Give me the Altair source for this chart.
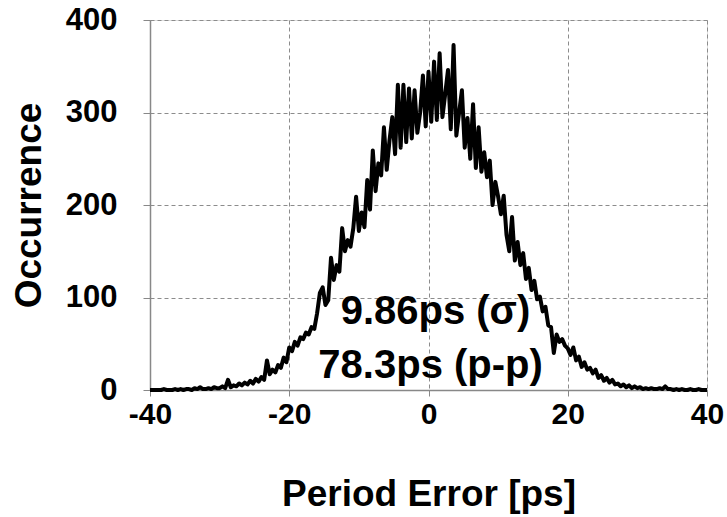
import altair as alt
import pandas as pd

# Histogram bins (ps), 0.4 ps apart
bin_start = -40.0
bin_step = 0.4
occurrence = [
    0, 0, 0, 0, 0, 1, 0, 0, 0, 1,
    0, 1, 0, 1, 1, 0, 2, 1, 3, 1,
    1, 2, 1, 3, 2, 2, 4, 2, 11, 3,
    5, 4, 7, 5, 8, 6, 10, 7, 12, 9,
    14, 11, 32, 17, 22, 19, 27, 24, 35, 30,
    46, 42, 52, 48, 57, 55, 62, 60, 68, 66,
    83, 105, 111, 92, 97, 143, 119, 135, 128, 175,
    150, 162, 155, 175, 209, 172, 192, 176, 227, 195,
    259, 215, 245, 232, 284, 238, 270, 295, 255, 330,
    262, 330, 268, 326, 272, 324, 278, 300, 340, 285,
    344, 290, 355, 292, 364, 295, 320, 346, 282, 373,
    275, 300, 324, 262, 294, 250, 309, 240, 284, 236,
    257, 230, 248, 200, 225, 209, 190, 210, 168, 150,
    187, 140, 160, 135, 148, 120, 132, 108, 118, 98,
    101, 85, 90, 70, 68, 40, 60, 52, 55, 48,
    45, 38, 46, 32, 36, 25, 30, 22, 24, 18,
    22, 13, 16, 10, 13, 8, 11, 6, 7, 4,
    6, 3, 5, 2, 4, 2, 3, 1, 2, 1,
    2, 1, 1, 2, 1, 4, 1, 1, 0, 1,
    0, 1, 0, 0, 1, 0, 0, 1, 0, 0,
    0,
]
period_error = [round(bin_start + bin_step * i, 2) for i in range(len(occurrence))]

x_ticks = [-40, -20, 0, 20, 40]
y_ticks = [0, 100, 200, 300, 400]

annot_text = ["9.86ps (σ)", "78.3ps (p-p)"]
annot_x = [1.0, 0.3]
annot_y = [84, 26]

df = pd.DataFrame({"err": period_error, "occ": occurrence})
adf = pd.DataFrame({"t": annot_text, "x": annot_x, "y": annot_y})

FONT = "Liberation Sans"

xs = alt.Scale(domain=[-40, 40], nice=False, zero=False)
ys = alt.Scale(domain=[0, 400], nice=False)

line = alt.Chart(df).mark_line(color="black", strokeWidth=4, strokeJoin="round").encode(
    x=alt.X("err:Q", scale=xs, axis=alt.Axis(
        values=x_ticks, title="Period Error [ps]", labelExpr="'' + datum.value",
        labelFont=FONT, labelFontSize=30, labelFontWeight="bold", labelColor="black",
        labelPadding=3, tickSize=6, tickColor="#888888", domainColor="#888888",
        domainWidth=1.5, titleFont=FONT, titleFontSize=37, titleFontWeight="bold",
        titleColor="black", titleBaseline="alphabetic", titleY=115,
        grid=True, gridColor="#8c8c8c", gridDash=[4, 3], gridWidth=1,
        labelFlush=False,
    )),
    y=alt.Y("occ:Q", scale=ys, axis=alt.Axis(
        values=y_ticks, title="Occurrence", labelExpr="'' + datum.value",
        labelFont=FONT, labelFontSize=31, labelFontWeight="bold", labelColor="black",
        labelPadding=26, tickSize=7, tickColor="#888888", domainColor="#888888",
        domainWidth=1.5, titleFont=FONT, titleFontSize=37, titleFontWeight="bold",
        titleColor="black", titleBaseline="middle", titleX=-121, titleY=185,
        titleAngle=-90, titleAlign="center",
        grid=True, gridColor="#8c8c8c", gridDash=[4, 3], gridWidth=1,
    )),
)

text = alt.Chart(adf).mark_text(
    font=FONT, fontSize=40, fontWeight="bold", color="black", baseline="middle", align="center"
).encode(
    x=alt.X("x:Q", scale=xs),
    y=alt.Y("y:Q", scale=ys),
    text="t:N",
)

chart = (line + text).properties(
    width=557, height=370,
    autosize=alt.AutoSizeParams(type="none"),
    padding={"left": 150, "top": 20, "right": 20, "bottom": 127},
).configure_view(stroke=None).configure(background="white")

chart.save("out.html", embed_options={"renderer": "svg", "actions": False})
